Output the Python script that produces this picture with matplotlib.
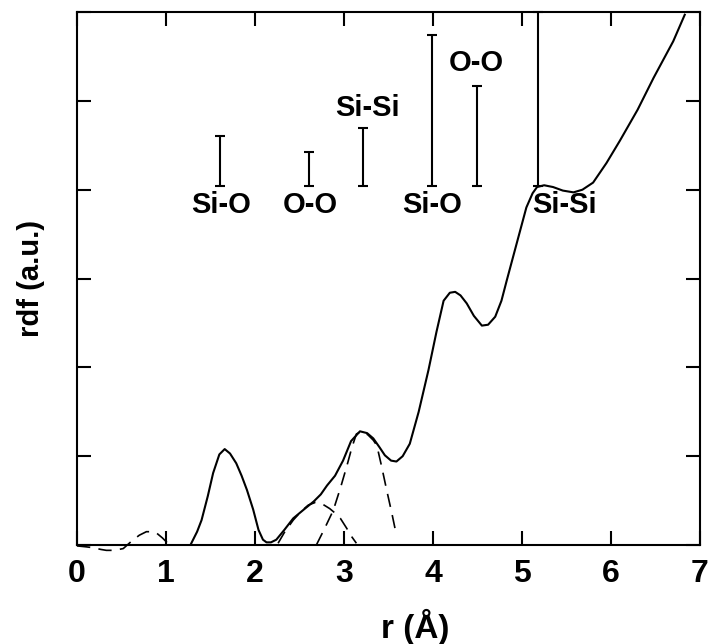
import numpy as np
import matplotlib
matplotlib.use("Agg")
import matplotlib.pyplot as plt

plt.rcParams['font.family'] = ['Liberation Sans', 'DejaVu Sans']
plt.rcParams['font.weight'] = 'bold'

# total rdf (solid)
r_tot = [1.28, 1.35, 1.40, 1.47, 1.53, 1.60, 1.66, 1.72, 1.79, 1.85, 1.91, 1.98,
         2.04, 2.09, 2.13, 2.18, 2.24, 2.33, 2.43, 2.55, 2.66, 2.74, 2.81, 2.90,
         2.99, 3.08, 3.18, 3.26, 3.33, 3.40, 3.46, 3.53, 3.59, 3.66, 3.74, 3.84,
         3.95, 4.04, 4.12, 4.19, 4.25, 4.31, 4.38, 4.46, 4.55, 4.62, 4.70, 4.77,
         4.83, 4.94, 5.05, 5.12, 5.17, 5.25, 5.35, 5.46, 5.58, 5.68, 5.80, 5.95,
         6.10, 6.30, 6.48, 6.70, 6.83]
g_tot = [0.01, 0.15, 0.28, 0.55, 0.81, 1.02, 1.08, 1.03, 0.92, 0.78, 0.62, 0.40,
         0.17, 0.06, 0.03, 0.03, 0.06, 0.17, 0.30, 0.40, 0.49, 0.57, 0.67, 0.78,
         0.95, 1.17, 1.28, 1.26, 1.20, 1.10, 1.01, 0.95, 0.94, 1.00, 1.14, 1.50,
         1.97, 2.40, 2.75, 2.84, 2.85, 2.81, 2.72, 2.58, 2.47, 2.48, 2.57, 2.75,
         2.98, 3.39, 3.80, 3.96, 4.03, 4.05, 4.03, 3.99, 3.97, 4.00, 4.08, 4.30,
         4.55, 4.90, 5.26, 5.67, 5.97]

# partial contributions (dashed)
r_d1 = [0.00, 0.10, 0.18, 0.27, 0.33, 0.42, 0.52, 0.61, 0.70, 0.78, 0.85, 0.90, 0.96, 1.03]
g_d1 = [-0.01, -0.02, -0.03, -0.05, -0.06, -0.06, -0.04, 0.04, 0.11, 0.15, 0.15, 0.13, 0.08, 0.01]

r_d2 = [2.26, 2.33, 2.43, 2.52, 2.60, 2.68, 2.76, 2.84, 2.90, 2.96, 3.03, 3.09, 3.14]
g_d2 = [0.02, 0.14, 0.28, 0.38, 0.45, 0.48, 0.46, 0.41, 0.36, 0.30, 0.19, 0.09, 0.02]

r_d3 = [2.69, 2.78, 2.88, 2.96, 3.03, 3.09, 3.14, 3.20, 3.27, 3.33, 3.37, 3.42, 3.48, 3.54, 3.59]
g_d3 = [0.00, 0.18, 0.39, 0.64, 0.88, 1.10, 1.25, 1.28, 1.24, 1.18, 1.12, 0.90, 0.62, 0.35, 0.11]

# bond-distance ranges
bar_r = [1.61, 2.61, 3.21, 3.99, 4.49, 5.18]
bar_lo = [4.04, 4.04, 4.04, 4.04, 4.04, 4.04]
bar_hi = [4.60, 4.42, 4.70, 5.74, 5.17, 6.00]

lab_text = ['Si-O', 'O-O', 'Si-Si', 'Si-O', 'O-O', 'Si-Si']
lab_r = [1.62, 2.62, 3.27, 3.99, 4.49, 5.48]
lab_y = [3.83, 3.83, 4.92, 3.83, 5.43, 3.83]

fig = plt.figure(figsize=(7.16, 6.44), dpi=100)
ax = fig.add_axes([0.1075, 0.1537, 0.870, 0.8276])

ax.plot(r_tot, g_tot, color='black', lw=1.5)
for rr, gg in [(r_d1, g_d1), (r_d2, g_d2), (r_d3, g_d3)]:
    ax.plot(rr, gg, color='black', lw=1.2, dashes=(8, 5), clip_on=False)

lo = np.array(bar_lo)
hi = np.array(bar_hi)
ax.errorbar(bar_r, lo, yerr=[np.zeros(len(lo)), hi - lo], fmt='none',
            ecolor='black', elinewidth=1.5, capsize=3.5, capthick=1.5, clip_on=False)

for t, x, y in zip(lab_text, lab_r, lab_y):
    ax.text(x, y, t, ha='center', va='center', fontsize=21, fontweight='bold')

ax.set_xlim(0, 7)
ax.set_ylim(0, 6)
ax.set_xticks(range(0, 8))
ax.set_yticks(range(0, 7))
ax.set_yticklabels([])
ax.tick_params(direction='in', length=10, width=1.5, top=True, right=True,
               labelsize=23, pad=10)
for lbl in ax.get_xticklabels():
    lbl.set_fontweight('bold')
for s in ax.spines.values():
    s.set_linewidth(1.5)

ax.text(0.5425, -0.154, 'r (Å)', transform=ax.transAxes, ha='center', va='center',
        fontsize=24, fontweight='bold')
ax.text(-0.074, 0.5, 'rdf (a.u.)', transform=ax.transAxes, ha='center', va='center',
        rotation=90, fontsize=21, fontweight='bold')

fig.savefig('out.png', dpi=100)
